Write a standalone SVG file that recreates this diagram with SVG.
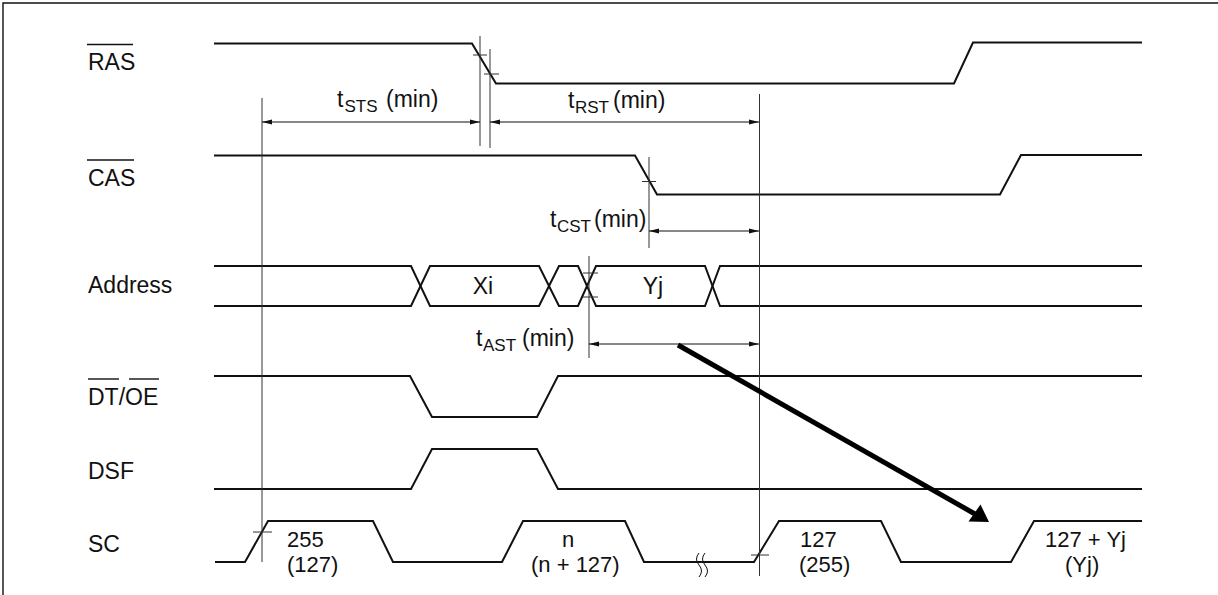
<svg xmlns="http://www.w3.org/2000/svg" width="1218" height="595" viewBox="0 0 1218 595">
<style>
.sig{fill:none;stroke:#111;stroke-width:2;stroke-linejoin:miter}
.ref{fill:none;stroke:#333;stroke-width:1}
.dim{fill:none;stroke:#111;stroke-width:1}
.ovl{stroke:#111;stroke-width:1.4}
text{font-family:"Liberation Sans",Arial,sans-serif;font-size:23px;fill:#111}
.sub{font-size:17px}
.mid{text-anchor:middle}
.val{font-size:22px}
</style>
<defs>
<marker id="ah" markerUnits="userSpaceOnUse" markerWidth="11" markerHeight="6" refX="10" refY="3" orient="auto-start-reverse">
<path d="M0,0.5 L10,3 L0,5.5 z" fill="#111"/>
</marker>
</defs>
<rect width="1218" height="595" fill="#fff"/>
<path d="M3,595 V3 H1218" fill="none" stroke="#111" stroke-width="1.4"/>

<g id="RAS">
<text x="88" y="70">RAS</text>
<line class="ovl" x1="87" y1="44.5" x2="133" y2="44.5"/>
<path class="sig" d="M214,43.5 H472 L496,83.5 H954 L973,42.5 H1142"/>
</g>

<g id="CAS">
<text x="88" y="186">CAS</text>
<line class="ovl" x1="87" y1="160" x2="134" y2="160"/>
<path class="sig" d="M214,155.5 H635 L657,194.5 H1000 L1021,155 H1142"/>
</g>

<g id="Address">
<text x="88" y="293">Address</text>
<path class="sig" d="M214,266 H411 L430,306 H539 L559,266 H578 L596,306 H705 L720,266 H1142"/>
<path class="sig" d="M214,306 H411 L430,266 H539 L559,306 H578 L596,266 H705 L720,306 H1142"/>
<text class="mid" x="483" y="294">Xi</text>
<text class="mid" x="653" y="294">Yj</text>
</g>

<g id="DTOE">
<text x="88" y="405">DT/OE</text>
<line class="ovl" x1="88" y1="379" x2="119" y2="379"/>
<line class="ovl" x1="129" y1="379" x2="159" y2="379"/>
<path class="sig" d="M214,376 H410 L432,417 H537 L558,376 H1142"/>
</g>

<g id="DSF">
<text x="88" y="479">DSF</text>
<path class="sig" d="M214,489 H411 L432,449 H537 L558,489 H1142"/>
</g>

<g id="SC">
<text x="88" y="552">SC</text>
<path class="sig" d="M215,562 H245 L268,521 H373 L393,562 H502 L523,521 H625 L644,562 H754 L779,521 H881 L901,562 H1011 L1034,521 H1142"/>
<path class="dim" d="M699,553 q-5,6 0,12 q5,6 0,12 M705,553 q-5,6 0,12 q5,6 0,12"/>
<text class="val" x="287" y="547">255</text>
<text class="val" x="287" y="572">(127)</text>
<text class="val mid" x="568" y="547">n</text>
<text class="val" x="531" y="572">(n + 127)</text>
<text class="val" x="800" y="547">127</text>
<text class="val" x="799" y="572">(255)</text>
<text class="val" x="1045" y="547">127 + Yj</text>
<text class="val" x="1065" y="572">(Yj)</text>
</g>

<g id="connectors">
<line class="ref" x1="262" y1="98" x2="262" y2="562"/>
<line class="ref" x1="480" y1="36" x2="480" y2="146"/>
<line class="ref" x1="490" y1="49" x2="490" y2="148"/>
<line class="ref" x1="759.5" y1="94" x2="759.5" y2="576"/>
<line class="ref" x1="649" y1="157" x2="649" y2="248"/>
<line class="ref" x1="589" y1="256" x2="589" y2="358"/>
<path class="ref" d="M473,55 H487 M484,74 H499 M642,181.5 H656 M583,273 H598 M583,297 H598 M253,532 H272 M751,555 H769"/>
<line class="dim" x1="262" y1="122" x2="480" y2="122" marker-start="url(#ah)" marker-end="url(#ah)"/>
<line class="dim" x1="490" y1="122" x2="759" y2="122" marker-start="url(#ah)" marker-end="url(#ah)"/>
<line class="dim" x1="649" y1="231" x2="759" y2="231" marker-start="url(#ah)" marker-end="url(#ah)"/>
<line class="dim" x1="589" y1="344" x2="759" y2="344" marker-start="url(#ah)" marker-end="url(#ah)"/>
<line x1="678" y1="345" x2="975" y2="514" stroke="#000" stroke-width="5"/>
<path d="M989,522 L968.5,521.5 L980.5,504.5 z" fill="#000"/>
</g>

<g id="labels">
<text x="337" y="107">t<tspan class="sub" x="344.5" y="112">STS</tspan><tspan x="386" y="107">(min)</tspan></text>
<text x="568" y="108">t<tspan class="sub" x="575" y="113">RST</tspan><tspan x="613" y="108">(min)</tspan></text>
<text x="550" y="227">t<tspan class="sub" x="557" y="232">CST</tspan><tspan x="594" y="227">(min)</tspan></text>
<text x="476" y="346">t<tspan class="sub" x="483" y="351">AST</tspan><tspan x="522" y="346">(min)</tspan></text>
</g>
</svg>
